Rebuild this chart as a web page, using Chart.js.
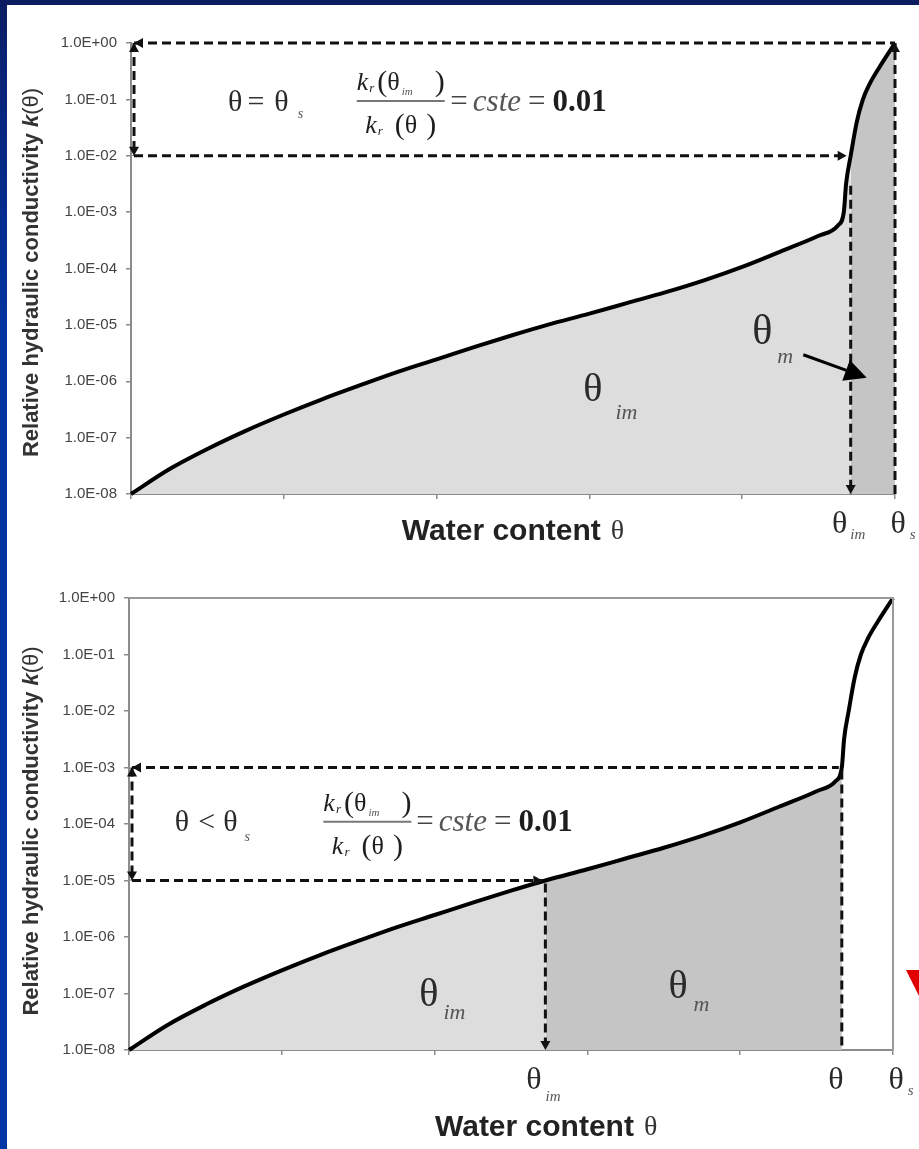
<!DOCTYPE html>
<html>
<head>
<meta charset="utf-8">
<script src="https://cdn.jsdelivr.net/npm/chart.js@4.4.1/dist/chart.umd.min.js"></script>
<style>
html,body{margin:0;padding:0}
body{width:919px;height:1149px;overflow:hidden;position:relative;
 background:linear-gradient(180deg,#0c1c60 0px,#0a2274 60px,#0033a0 320px,#0035a6 1149px);}
#panel{position:absolute;left:7px;top:5px;width:912px;height:1144px;background:#fff}
#top,#bottom{position:absolute;left:7px}
#top{top:5px}
#bottom{top:570px}
#tri{position:absolute;left:906px;top:970px;width:0;height:0;border-left:14px solid transparent;border-right:14px solid transparent;border-top:28px solid #e00000}
</style>
</head>
<body>
<div id="panel"></div>
<canvas id="top" width="912" height="565"></canvas>
<canvas id="bottom" width="912" height="579"></canvas>
<div id="tri"></div>
<script>
// ---- data (water content normalised 0..1 = 0..θs) ----
const waterContent = [0, 0.05, 0.10, 0.15, 0.20, 0.25, 0.30, 0.35, 0.40, 0.45, 0.50, 0.545, 0.60, 0.65, 0.70, 0.75, 0.80, 0.85, 0.90, 0.925, 0.933, 0.936, 0.942, 0.95, 0.958, 0.967, 0.98, 1.0];
const conductivity = [1.0e-8, 2.75e-8, 6.3e-8, 1.32e-7, 2.57e-7, 4.79e-7, 8.5e-7, 1.48e-6, 2.45e-6, 4.07e-6, 6.61e-6, 1.0e-5, 1.58e-5, 2.45e-5, 3.8e-5, 6.17e-5, 1.07e-4, 2.0e-4, 3.8e-4, 5.75e-4, 1.0e-3, 3.2e-3, 1.0e-2, 4.0e-2, 1.0e-1, 0.19, 0.38, 1.0];
const xTickValues = [0, 0.2, 0.4, 0.6, 0.8, 1.0];
const yTickValues = [1e-8, 1e-7, 1e-6, 1e-5, 1e-4, 1e-3, 1e-2, 1e-1, 1];
const yTickLabels = ['1.0E-08','1.0E-07','1.0E-06','1.0E-05','1.0E-04','1.0E-03','1.0E-02','1.0E-01','1.0E+00'];

// reference states
const thetaS = 1.0;
const topKTheta = 1.0;      // k(θ) with θ = θs
const topThetaIm = 0.942;   // θim where k = 0.01·k(θ)
const topKIm = 1e-2;
const botTheta = 0.933;     // θ < θs
const botKTheta = 1e-3;
const botThetaIm = 0.545;
const botKIm = 1e-5;
const ratioText = '0.01';

const SERIF = '"Liberation Serif","DejaVu Serif",serif';
const SANS = '"Liberation Sans",Arial,sans-serif';
const LIGHT = '#dddddd', DARK = '#c5c5c5', AXIS = '#8c8c8c', INK = '#1e1e1e', SUB = '#555';
const F = s => s + 'px ' + SERIF;
const FI = s => 'italic ' + s + 'px ' + SERIF;
const FB = s => 'bold ' + s + 'px ' + SERIF;

function points(a, b) {
  const out = [];
  waterContent.forEach((x, i) => { if (x >= a - 1e-9 && x <= b + 1e-9) out.push({x: x, y: conductivity[i]}); });
  return out;
}

function richWidth(ctx, parts) {
  let w = 0;
  parts.forEach(p => { ctx.font = p.f; w += (p.dx || 0) + ctx.measureText(p.t).width; });
  return w;
}
function drawRich(ctx, parts, x, y, align) {
  const w = richWidth(ctx, parts);
  let cx = align === 'center' ? x - w / 2 : (align === 'right' ? x - w : x);
  ctx.textBaseline = 'middle'; ctx.textAlign = 'left';
  parts.forEach(p => {
    ctx.font = p.f; cx += (p.dx || 0);
    ctx.fillStyle = p.c || INK;
    ctx.fillText(p.t, cx, y + (p.dy || 0));
    cx += ctx.measureText(p.t).width;
  });
  return w;
}
function head(ctx, fx, fy, tx, ty, len, half) {
  const a = Math.atan2(ty - fy, tx - fx);
  ctx.beginPath();
  ctx.moveTo(tx, ty);
  ctx.lineTo(tx - len * Math.cos(a) + half * Math.sin(a), ty - len * Math.sin(a) - half * Math.cos(a));
  ctx.lineTo(tx - len * Math.cos(a) - half * Math.sin(a), ty - len * Math.sin(a) + half * Math.cos(a));
  ctx.closePath(); ctx.fill();
}
function dashed(ctx, x1, y1, x2, y2, startArrow, endArrow) {
  ctx.save();
  ctx.strokeStyle = '#111'; ctx.fillStyle = '#111';
  ctx.lineWidth = 3; ctx.setLineDash([9, 5]);
  ctx.beginPath(); ctx.moveTo(x1, y1); ctx.lineTo(x2, y2); ctx.stroke();
  ctx.setLineDash([]);
  if (startArrow) head(ctx, x2, y2, x1, y1, 9, 5);
  if (endArrow) head(ctx, x1, y1, x2, y2, 9, 5);
  ctx.restore();
}
function fraction(ctx, cx, by) {
  const num = [{t:'k', f:FI(26)}, {t:'r', f:FI(13), dx:1, dy:6}, {t:'(', f:F(30), dx:3}, {t:'θ', f:F(26)}, {t:'im', f:FI(11), dx:2, dy:9, c:SUB}, {t:')', f:F(30), dx:22}];
  const den = [{t:'k', f:FI(26)}, {t:'r', f:FI(13), dx:1, dy:6}, {t:'(', f:F(30), dx:12}, {t:'θ', f:F(26)}, {t:')', f:F(30), dx:9}];
  const w = drawRich(ctx, num, cx, by - 18, 'center');
  drawRich(ctx, den, cx, by + 25, 'center');
  ctx.save(); ctx.strokeStyle = '#777'; ctx.lineWidth = 2;
  ctx.beginPath(); ctx.moveTo(cx - w / 2, by); ctx.lineTo(cx + w / 2, by); ctx.stroke(); ctx.restore();
}
function rhs(ctx, x, y) {
  drawRich(ctx, [{t:'=', f:F(31), c:'#444'}, {t:'cste', f:FI(31), dx:5, c:'#555'}, {t:'=', f:F(31), dx:7, c:'#444'}, {t:ratioText, f:FB(31), dx:7}], x, y, 'left');
}
function yTitle(ctx, x, y) {
  ctx.save(); ctx.translate(x, y); ctx.rotate(-Math.PI / 2);
  drawRich(ctx, [{t:'Relative hydraulic conductivity ', f:'bold 22px ' + SANS, c:'#333'}, {t:'k', f:'italic bold 22px ' + SANS, c:'#333'}, {t:'(θ)', f:'22px ' + SANS, c:'#333'}], 0, 0, 'center');
  ctx.restore();
}
function xTitle(ctx, x, y) {
  drawRich(ctx, [{t:'Water content', f:'bold 30px ' + SANS, c:'#222'}, {t:'θ', f:F(28), dx:10, c:'#333'}], x, y, 'center');
}
function thetaLabel(ctx, sub, x, y, size, subSize, dx, dy) {
  drawRich(ctx, [{t:'θ', f:F(size), c:'#2a2a2a'}, {t:sub, f:FI(subSize), dx:dx, dy:dy, c:SUB}], x, y, 'left');
}

function drawTop(chart) {
  const {ctx, chartArea: a, scales: {x, y}} = chart;
  const X = v => x.getPixelForValue(v), Y = v => y.getPixelForValue(v), P = l => Math.pow(10, l);
  // guides
  dashed(ctx, X(0) + 3, Y(topKTheta), X(thetaS), Y(topKTheta), true, false);
  dashed(ctx, X(0) + 3, Y(topKTheta), X(0) + 3, Y(topKIm), true, true);
  dashed(ctx, X(0) + 3, Y(topKIm), X(topThetaIm) - 4, Y(topKIm), false, true);
  dashed(ctx, X(topThetaIm), Y(topKIm) + 30, X(topThetaIm), Y(1e-8), false, true);
  dashed(ctx, X(thetaS), Y(1e-8), X(thetaS), Y(topKTheta), false, true);
  // formula
  drawRich(ctx, [{t:'θ', f:F(30), c:'#2a2a2a'}, {t:'=', f:F(30), dx:5, c:'#333'}, {t:'θ', f:F(30), dx:10, c:'#2a2a2a'}, {t:'s', f:FI(14), dx:9, dy:12, c:SUB}], X(0.127), Y(P(-1.06)), 'left');
  fraction(ctx, X(0.353), Y(P(-1.03)));
  rhs(ctx, X(0.418), Y(P(-1.06)));
  // region labels
  thetaLabel(ctx, 'im', X(0.592), Y(P(-6.17)), 40, 22, 13, 22);
  thetaLabel(ctx, 'm', X(0.813), Y(P(-5.14)), 42, 22, 5, 24);
  // solid arrow from θm label
  ctx.save(); ctx.strokeStyle = '#000'; ctx.fillStyle = '#000'; ctx.lineWidth = 3;
  const x1 = X(0.880), y1 = Y(P(-5.53)), x2 = X(0.963), y2 = Y(P(-5.94));
  ctx.beginPath(); ctx.moveTo(x1, y1); ctx.lineTo(x2 - 12, y2 - 4.5); ctx.stroke();
  head(ctx, x1, y1, x2, y2, 22, 11); ctx.restore();
  // axis annotation
  const ly = a.bottom + 31;
  drawRich(ctx, [{t:'θ', f:F(32), c:'#2a2a2a'}, {t:'im', f:FI(15), dx:3, dy:10, c:SUB}], X(topThetaIm) - 2, ly, 'center');
  drawRich(ctx, [{t:'θ', f:F(32), c:'#2a2a2a'}, {t:'s', f:FI(15), dx:4, dy:10, c:SUB}], X(thetaS) + 8, ly, 'center');
  xTitle(ctx, X(0.5), a.bottom + 38);
  yTitle(ctx, 25, (a.top + a.bottom) / 2 + 4);
}

function drawBottom(chart) {
  const {ctx, chartArea: a, scales: {x, y}} = chart;
  const X = v => x.getPixelForValue(v), Y = v => y.getPixelForValue(v), P = l => Math.pow(10, l);
  // frame
  ctx.save(); ctx.strokeStyle = '#9a9a9a'; ctx.lineWidth = 2;
  ctx.beginPath(); ctx.moveTo(a.left, a.top); ctx.lineTo(a.right, a.top); ctx.lineTo(a.right, a.bottom); ctx.stroke(); ctx.restore();
  // guides
  dashed(ctx, X(0) + 3, Y(botKTheta), X(botTheta) - 3, Y(botKTheta), true, false);
  dashed(ctx, X(0) + 3, Y(botKTheta), X(0) + 3, Y(botKIm), true, true);
  dashed(ctx, X(0) + 3, Y(botKIm), X(botThetaIm) - 3, Y(botKIm), false, true);
  dashed(ctx, X(botThetaIm), Y(botKIm) + 3, X(botThetaIm), Y(1e-8), false, true);
  dashed(ctx, X(botTheta), Y(botKTheta) + 3, X(botTheta), Y(1e-8), false, false);
  // formula
  drawRich(ctx, [{t:'θ', f:F(30), c:'#2a2a2a'}, {t:'<', f:F(30), dx:9, c:'#333'}, {t:'θ', f:F(30), dx:8, c:'#2a2a2a'}, {t:'s', f:FI(14), dx:7, dy:14, c:SUB}], X(0.060), Y(P(-3.98)), 'left');
  fraction(ctx, X(0.312), Y(P(-3.96)));
  rhs(ctx, X(0.376), Y(P(-3.98)));
  // region labels
  thetaLabel(ctx, 'im', X(0.380), Y(P(-7.03)), 40, 22, 5, 18);
  thetaLabel(ctx, 'm', X(0.706), Y(P(-6.90)), 40, 22, 6, 17);
  // axis annotation
  const ly = a.bottom + 31;
  drawRich(ctx, [{t:'θ', f:F(32), c:'#2a2a2a'}, {t:'im', f:FI(15), dx:4, dy:16, c:SUB}], X(botThetaIm) - 2, ly, 'center');
  drawRich(ctx, [{t:'θ', f:F(32), c:'#2a2a2a'}], X(botTheta) - 6, ly, 'center');
  drawRich(ctx, [{t:'θ', f:F(32), c:'#2a2a2a'}, {t:'s', f:FI(15), dx:4, dy:10, c:SUB}], X(thetaS) + 8, ly, 'center');
  xTitle(ctx, X(0.546), a.bottom + 78);
  yTitle(ctx, 25, (a.top + a.bottom) / 2 + 7);
}

function makeChart(id, cfg) {
  return new Chart(document.getElementById(id), {
    type: 'line',
    data: {datasets: [
      {data: points(0, 1), borderColor: '#000', borderWidth: 4, pointRadius: 0, fill: false, cubicInterpolationMode: 'monotone', order: 0, clip: false},
      {data: points(0, cfg.split), borderColor: 'rgba(0,0,0,0)', borderWidth: 0, backgroundColor: LIGHT, fill: 'start', pointRadius: 0, cubicInterpolationMode: 'monotone', order: 2},
      {data: points(cfg.split, cfg.end), borderColor: 'rgba(0,0,0,0)', borderWidth: 0, backgroundColor: DARK, fill: 'start', pointRadius: 0, cubicInterpolationMode: 'monotone', order: 1}
    ]},
    options: {
      responsive: false, animation: false, devicePixelRatio: 1,
      layout: {padding: cfg.padding},
      plugins: {legend: {display: false}, tooltip: {enabled: false}},
      scales: {
        x: {type: 'linear', min: 0, max: 1,
            afterBuildTicks: s => { s.ticks = xTickValues.map(v => ({value: v})); },
            ticks: {callback: () => '', autoSkip: false},
            grid: {drawOnChartArea: false, tickLength: 5, color: AXIS, lineWidth: 1.5},
            border: {color: AXIS, width: 2},
            afterFit: s => { s.height = cfg.xHeight; }},
        y: {type: 'logarithmic', min: 1e-8, max: 1,
            afterBuildTicks: s => { s.ticks = yTickValues.map(v => ({value: v})); },
            ticks: {callback: (v, i) => yTickLabels[i], autoSkip: false, color: '#444', font: {family: SANS, size: 15}, padding: 9},
            grid: {drawOnChartArea: false, tickLength: 5, color: AXIS, lineWidth: 1.5},
            border: {color: AXIS, width: 2},
            afterFit: s => { s.width = cfg.yWidth; }}
      }
    },
    plugins: [{id: 'deco', afterDatasetsDraw(chart) { cfg.draw(chart); }}]
  });
}

makeChart('top', {split: topThetaIm, end: thetaS, padding: {left: 0, top: 38, right: 24, bottom: 0}, xHeight: 76, yWidth: 124, draw: drawTop});
makeChart('bottom', {split: botThetaIm, end: botTheta, padding: {left: 0, top: 28, right: 26, bottom: 0}, xHeight: 99, yWidth: 122, draw: drawBottom});
</script>
</body>
</html>
